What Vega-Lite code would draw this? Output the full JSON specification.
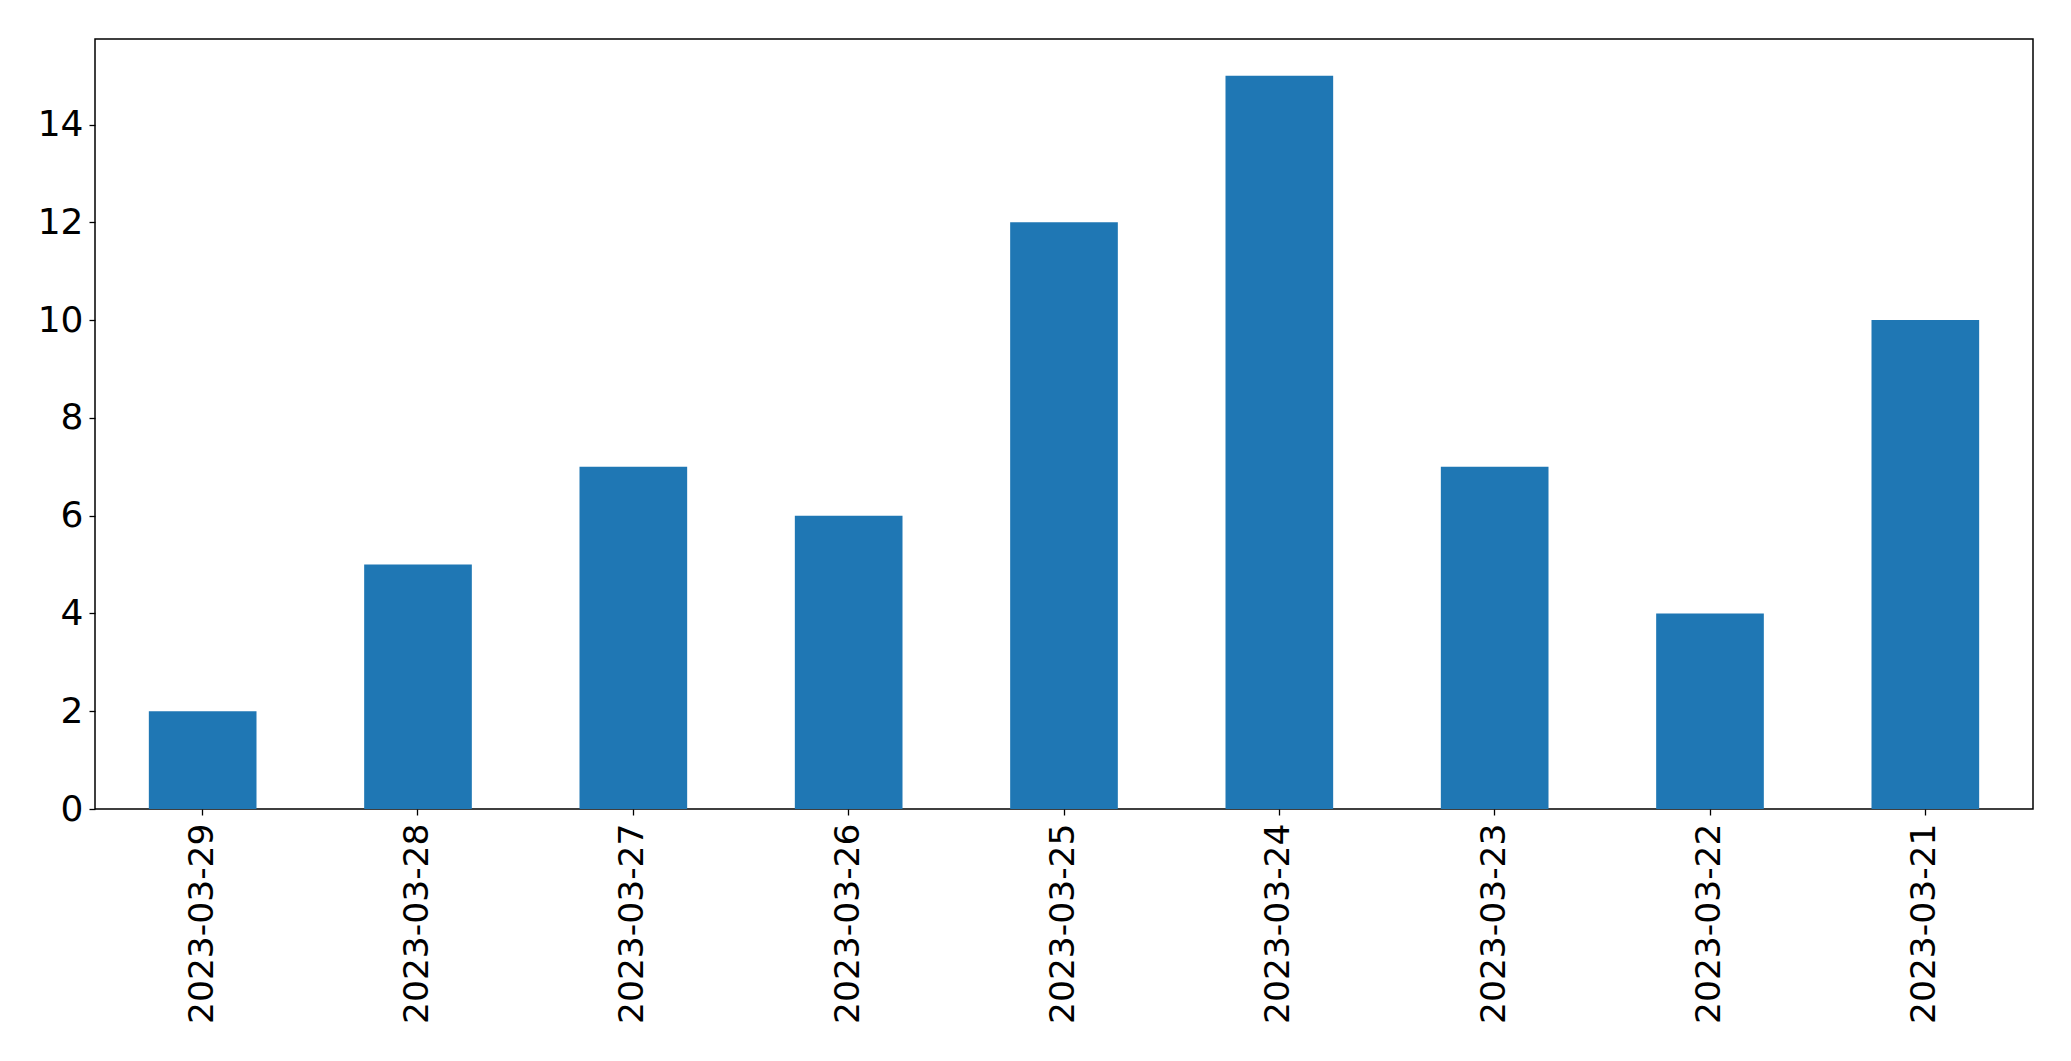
{
  "$schema": "https://vega.github.io/schema/vega-lite/v6.json",
  "autosize": {"type": "none"},
  "padding": {"left": 95, "top": 39, "right": 38, "bottom": 252},
  "width": 1938,
  "height": 770,
  "background": "white",
  "config": {
    "view": {"stroke": "black", "strokeWidth": 1.5},
    "font": "DejaVu Sans",
    "axis": {
      "domain": false,
      "grid": false,
      "ticks": true,
      "tickColor": "black",
      "tickSize": 6,
      "tickWidth": 1.3,
      "labelColor": "black",
      "labelFont": "DejaVu Sans",
      "labelFontSize": 35,
      "labelLimit": 500,
      "title": null
    }
  },
  "data": {
    "values": [
      {"date": "2023-03-29", "count": 2},
      {"date": "2023-03-28", "count": 5},
      {"date": "2023-03-27", "count": 7},
      {"date": "2023-03-26", "count": 6},
      {"date": "2023-03-25", "count": 12},
      {"date": "2023-03-24", "count": 15},
      {"date": "2023-03-23", "count": 7},
      {"date": "2023-03-22", "count": 4},
      {"date": "2023-03-21", "count": 10}
    ]
  },
  "mark": {"type": "bar", "color": "#1f77b4"},
  "encoding": {
    "x": {
      "field": "date",
      "type": "nominal",
      "sort": null,
      "scale": {"paddingInner": 0.5, "paddingOuter": 0.25},
      "axis": {"labelAngle": -90, "labelPadding": 8, "labelAlign": "right", "labelBaseline": "middle", "labelFontSize": 34.5}
    },
    "y": {
      "field": "count",
      "type": "quantitative",
      "scale": {"domain": [0, 15.75], "nice": false, "zero": true},
      "axis": {"values": [0, 2, 4, 6, 8, 10, 12, 14], "labelPadding": 6, "labelFontSize": 36}
    }
  }
}
